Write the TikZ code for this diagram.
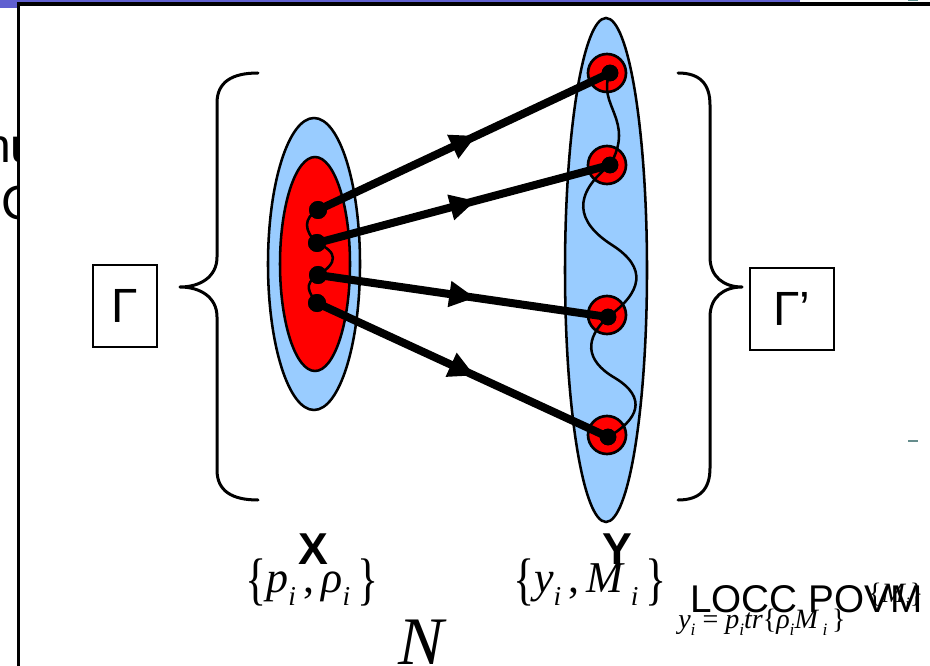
\documentclass[tikz,border=0pt]{standalone}
\usepackage{fontspec}
\usepackage{graphicx}
\setmainfont{Liberation Sans}
\newfontfamily\tms{Liberation Serif}
\usetikzlibrary{decorations.markings}
\definecolor{lblue}{RGB}{153,204,255}
\definecolor{barblue}{RGB}{96,96,208}
\definecolor{tealmark}{RGB}{95,143,143}
\newcommand{\mi}[1]{{\tms\itshape #1}}
\newcommand{\sbi}[1]{\raisebox{-0.28em}{\scalebox{0.62}{\mi{#1}}}}
\newcommand{\lbr}{\raisebox{-0.12em}{\scalebox{1}[1.3]{\{}}}
\newcommand{\rbr}{\raisebox{-0.12em}{\scalebox{1}[1.3]{\}}}}
\begin{document}
\begin{tikzpicture}[x=0.75pt,y=-0.75pt,
  bracepath/.style={line width=2.25pt, line cap=round, line join=round},
  ell/.style={draw=black, line width=1.9pt},
  ring/.style={circle, draw=black, fill=red, line width=2pt, inner sep=0pt, minimum size=28.5pt},
  xdot/.style={circle, fill=black, inner sep=0pt, minimum size=13.5pt},
  ydot/.style={circle, fill=black, inner sep=0pt, minimum size=12.5pt},
  wave/.style={line width=1.9pt},
  conn/.style={line width=6pt, postaction={decorate},
    decoration={markings, mark=at position 0.54 with {\fill (-19pt,-10pt) -- (0pt,0pt) -- (-19pt,10pt) -- cycle;}}},
  gbox/.style={draw=black, line width=1.9pt, inner sep=0pt, font=\fontsize{36}{43}\selectfont},
  slide/.style={font=\fontsize{36}{43}\selectfont, inner sep=0pt},
  bigl/.style={font=\bfseries\fontsize{33.5}{40}\selectfont, inner sep=0pt},
  mathl/.style={font=\tms\fontsize{33}{38}\selectfont, inner sep=0pt},
  smallm/.style={font=\tms\fontsize{21}{25}\selectfont, inner sep=0pt}
]
\useasboundingbox (0,0) rectangle (930,666);
% slide background remnants
\fill[barblue] (0,-2) rectangle (800,8);
\fill[tealmark] (908,-2) rectangle (918,1.5);
\node[slide, anchor=base west] (t1) at (-16,163) {nu};
\node[slide, anchor=base west] (t2) at (1,220) {C};
% frame
\filldraw[fill=white, draw=black, line width=2.3pt] (18.5,4) rectangle (980,720);
\fill[tealmark!80!gray] (908,440.3) rectangle (918,441.7);

% braces
\draw[bracepath] (258,73) .. controls (232,73) and (217,82) .. (217,103) -- (217,257)
  .. controls (217,277) and (200,287) .. (180,287)
  .. controls (200,287) and (217,297) .. (217,317) -- (217,470)
  .. controls (217,491) and (232,500) .. (258,500);
\draw[bracepath] (678,73) .. controls (700,73) and (710,84) .. (710,105) -- (710,257)
  .. controls (710,277) and (724,287) .. (742,287)
  .. controls (724,287) and (710,297) .. (710,317) -- (710,468)
  .. controls (710,489) and (700,500) .. (678,500);

% Gamma boxes
\node[gbox, minimum width=48pt, minimum height=61.5pt] (g1) at (125,306) {Γ};
\node[gbox, minimum width=63pt, minimum height=61.5pt] (g2) at (792,309) {Γ’};

% X ellipses
\draw[ell, fill=lblue] (314,264) ellipse [x radius=46, y radius=146];
\draw[ell, fill=red] (315,264) ellipse [x radius=35, y radius=107];

% Y ellipse
\draw[ell, fill=lblue] (606,270) ellipse [x radius=41, y radius=252];
\node[ring] (r1) at (607,73) {};
\node[ring] (r2) at (607,165) {};
\node[ring] (r3) at (607,315) {};
\node[ring] (r4) at (607,435) {};

% dots
\node[xdot] (x1) at (318,210) {};
\node[xdot] (x2) at (317,243) {};
\node[xdot] (x3) at (318,275) {};
\node[xdot] (x4) at (317,303) {};
\node[ydot] (y1) at (610,73) {};
\node[ydot] (y2) at (610,165) {};
\node[ydot] (y3) at (608,317) {};
\node[ydot] (y4) at (608,437) {};

% wavy lines
\draw[wave] (x1.center) .. controls (303,218) and (304,231) .. (x2.center);
\draw[wave] (x2.center) .. controls (338,252) and (338,263) .. (x3.center);
\draw[wave] (x3.center) .. controls (303,284) and (309,293) .. (x4.center);
\draw[wave] (y1.center) .. controls (596,105) and (636,120) .. (y2.center);
\draw[wave] (y2.center) .. controls (572,195) and (576,222) .. (612,245)
  .. controls (648,268) and (642,292) .. (y3.center);
\draw[wave] (y3.center) .. controls (585,338) and (584,360) .. (615,378)
  .. controls (648,398) and (638,420) .. (y4.center);

% connectors
\draw[conn] (x1.center) -- (y1.center);
\draw[conn] (x2.center) -- (y2.center);
\draw[conn] (x3.center) -- (y3.center);
\draw[conn] (x4.center) -- (y4.center);
\node[xdot] at (x1) {};
\node[xdot] at (x2) {};
\node[xdot] at (x3) {};
\node[xdot] at (x4) {};
\node[ydot] at (y1) {};
\node[ydot] at (y2) {};
\node[ydot] at (y3) {};
\node[ydot] at (y4) {};

% labels
\node[bigl] (lx) at (313,549) {X};
\node[bigl] (ly) at (617,549) {Y};
\node[mathl] (px) at (312,582) {\lbr\mi{p}\sbi{i}\,,\,\mi{ρ}\sbi{i}\,\rbr};
\node[mathl] (py) at (590,582) {\lbr\mi{y}\sbi{i}\,,\,\mi{M}\,\sbi{i}\,\rbr};
\node[font=\tms\itshape\fontsize{51}{55}\selectfont, inner sep=0pt] (nn) at (421,642) {N};
\node[font=\fontsize{29}{34}\selectfont, inner sep=0pt, anchor=base west] (locc) at (690,612) {LOCC POVM};
\node[smallm, anchor=base west] (mset) at (868,602) {\{\mi{M}\sbi{i}\}};
\node[smallm, anchor=base west] (form) at (678,628) {\mi{y}\sbi{i} = \mi{p}\sbi{i}\mi{tr}\{\mi{ρ}\sbi{i}\mi{M}\,\sbi{i}\,\}};
\end{tikzpicture}
\end{document}
